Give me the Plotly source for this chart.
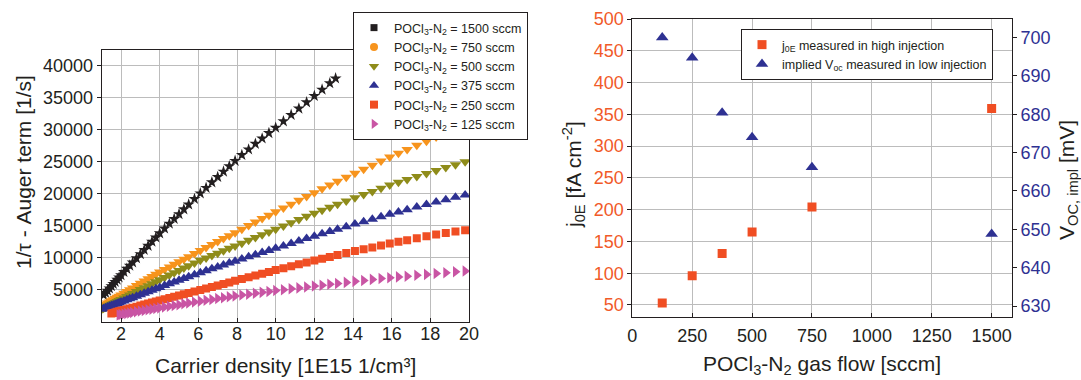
import plotly.graph_objects as go

# ---------------- Left panel data (Carrier density [1E15 1/cm3] vs 1/tau - Auger [1/s]) ----------------
x_1500 = [1.1, 1.2, 1.3, 1.4, 1.5, 1.6, 1.7, 1.8, 1.9, 2.0, 2.15, 2.3, 2.45, 2.6, 2.8, 3.0, 3.2, 3.4, 3.6, 3.8,
          4.0, 4.25, 4.5, 4.75, 5.0, 5.25, 5.5, 5.8, 6.1, 6.4, 6.7, 7.0, 7.3, 7.6, 7.9, 8.25, 8.6, 8.95, 9.3,
          9.65, 10.0, 10.4, 10.8, 11.2, 11.6, 12.0, 12.4, 12.8, 13.1]
y_1500 = [4100, 4450, 4800, 5150, 5500, 5850, 6150, 6500, 6850, 7200, 7700, 8200, 8700, 9200, 9850, 10500,
          11150, 11800, 12450, 13100, 13750, 14500, 15250, 16000, 16750, 17500, 18250, 19120, 19990, 20850,
          21720, 22550, 23390, 24230, 25070, 25980, 26850, 27730, 28570, 29410, 30250, 31250, 32250, 33240,
          34220, 35200, 36200, 37200, 37950]

x_750 = [1.0, 1.1, 1.2, 1.3, 1.4, 1.5, 1.6, 1.7, 1.8, 1.9, 2.0, 2.15, 2.3, 2.45, 2.6, 2.8, 3.0, 3.2, 3.4, 3.6,
         3.8, 4.0, 4.25, 4.5, 4.75, 5.0, 5.25, 5.5, 5.8, 6.1, 6.4, 6.7, 7.0, 7.3, 7.6, 7.9, 8.25, 8.6, 8.95,
         9.3, 9.65, 10.0, 10.4, 10.8, 11.2, 11.6, 12.0, 12.4, 12.8, 13.2, 13.65, 14.1, 14.55, 15.0, 15.45,
         15.9, 16.35, 16.8, 17.3, 17.8, 18.3, 18.8, 19.3, 19.8]
y_750 = [2300, 2480, 2660, 2840, 3020, 3200, 3380, 3560, 3740, 3920, 4100, 4380, 4650, 4930, 5210, 5580, 5950,
         6300, 6650, 7000, 7350, 7700, 8100, 8500, 8900, 9300, 9700, 10100, 10580, 11060, 11520, 11990, 12450,
         12920, 13380, 13850, 14400, 14960, 15520, 16050, 16580, 17100, 17700, 18300, 18900, 19500, 20100,
         20700, 21300, 21880, 22510, 23140, 23770, 24400, 25030, 25660, 26260, 26840, 27490, 28140, 28790,
         29440, 30090, 30740]

x_500 = list(x_750)
y_500 = [1900, 2050, 2200, 2350, 2500, 2650, 2800, 2950, 3100, 3250, 3400, 3630, 3870, 4100, 4330, 4640, 4950,
         5260, 5570, 5880, 6190, 6500, 6860, 7230, 7590, 7950, 8310, 8680, 9110, 9530, 9900, 10280, 10650,
         11030, 11400, 11780, 12210, 12650, 13090, 13530, 13960, 14400, 14900, 15400, 15900, 16400, 16900,
         17360, 17820, 18280, 18800, 19310, 19800, 20300, 20800, 21290, 21730, 22160, 22640, 23110, 23570,
         24020, 24470, 24920]

x_375 = list(x_750)
y_375 = [1900, 2010, 2120, 2230, 2340, 2450, 2560, 2670, 2780, 2890, 3000, 3170, 3350, 3520, 3690, 3920, 4150,
         4380, 4610, 4840, 5070, 5300, 5580, 5850, 6130, 6400, 6680, 6950, 7280, 7600, 7900, 8200, 8500, 8800,
         9100, 9400, 9740, 10070, 10400, 10740, 11070, 11400, 11780, 12160, 12540, 12920, 13300, 13660,
         14020, 14380, 14790, 15190, 15570, 15950, 16330, 16720, 17080, 17440, 17840, 18240, 18630, 19000,
         19380, 19750]

x_250 = [1.5, 1.6, 1.7, 1.8, 1.9, 2.0, 2.15, 2.3, 2.45, 2.6, 2.8, 3.0, 3.2, 3.4, 3.6, 3.8, 4.0, 4.25, 4.5,
         4.75, 5.0, 5.25, 5.5, 5.8, 6.1, 6.4, 6.7, 7.0, 7.3, 7.6, 7.9, 8.25, 8.6, 8.95, 9.3, 9.65, 10.0, 10.4,
         10.8, 11.2, 11.6, 12.0, 12.4, 12.8, 13.2, 13.65, 14.1, 14.55, 15.0, 15.45, 15.9, 16.35, 16.8, 17.3,
         17.8, 18.3, 18.8, 19.3, 19.8]
y_250 = [1220, 1300, 1390, 1480, 1560, 1650, 1770, 1890, 2010, 2130, 2290, 2450, 2610, 2770, 2930, 3090, 3250,
         3450, 3650, 3850, 4050, 4240, 4430, 4650, 4880, 5120, 5360, 5600, 5840, 6080, 6320, 6600, 6880, 7160,
         7440, 7720, 8000, 8300, 8600, 8900, 9200, 9500, 9780, 10060, 10340, 10660, 10970, 11260, 11550,
         11840, 12140, 12410, 12680, 12980, 13280, 13550, 13800, 14020, 14220]

x_125 = [1.9, 2.0, 2.15, 2.3, 2.45, 2.6, 2.8, 3.0, 3.2, 3.4, 3.6, 3.8, 4.0, 4.25, 4.5, 4.75, 5.0, 5.25, 5.5,
         5.8, 6.1, 6.4, 6.7, 7.0, 7.3, 7.6, 7.9, 8.25, 8.6, 8.95, 9.3, 9.65, 10.0, 10.4, 10.8, 11.2, 11.6,
         12.0, 12.4, 12.8, 13.2, 13.65, 14.1, 14.55, 15.0, 15.45, 15.9, 16.35, 16.8, 17.3, 17.8, 18.3, 18.8,
         19.3, 19.8]
y_125 = [1000, 1050, 1140, 1220, 1300, 1380, 1490, 1600, 1700, 1800, 1900, 2000, 2100, 2230, 2350, 2480, 2600,
         2730, 2850, 3000, 3150, 3280, 3420, 3550, 3690, 3820, 3960, 4100, 4240, 4380, 4520, 4660, 4800, 4940,
         5080, 5220, 5360, 5500, 5640, 5780, 5920, 6080, 6240, 6390, 6550, 6690, 6820, 6940, 7050, 7180, 7330,
         7470, 7600, 7730, 7850]

left_labels = ["1500", "750", "500", "375", "250", "125"]
left_x_ticks = [2, 4, 6, 8, 10, 12, 14, 16, 18, 20]
left_y_ticks = [5000, 10000, 15000, 20000, 25000, 30000, 35000, 40000]

# ---------------- Right panel data ----------------
gas_flow = [125, 250, 375, 500, 750, 1500]
j0e = [53, 96, 131, 165, 204, 359]
voc_impl = [700, 694.7, 680.4, 674, 666.2, 648.8]
right_x_ticks = [0, 250, 500, 750, 1000, 1250, 1500]
j0e_ticks = [50, 100, 150, 200, 250, 300, 350, 400, 450, 500]
voc_ticks = [630, 640, 650, 660, 670, 680, 690, 700]

# ---------------- styles ----------------
FONT = "Arial, Liberation Sans, Helvetica, sans-serif"
TXT = "#231f20"
GRID = "#bcbcbc"
C_BLACK = "#231f20"
C_ORANGE = "#f7941d"
C_OLIVE = "#8f8c1a"
C_BLUE = "#2e3192"
C_RED = "#f04e23"
C_MAG = "#c955a4"
C_RED_TXT = "#f15a29"

W, H = 1081, 380

def px(v):
    return v / W

def py(v):
    return 1 - v / H

fig = go.Figure()

series = [
    (x_1500, y_1500, C_BLACK, "star", 9, "square", 7),
    (x_750, y_750, C_ORANGE, "triangle-down", 10, "circle", 8),
    (x_500, y_500, C_OLIVE, "triangle-down", 10, "triangle-down", 9),
    (x_375, y_375, C_BLUE, "triangle-up", 10, "triangle-up", 9),
    (x_250, y_250, C_RED, "square", 8, "square", 8),
    (x_125, y_125, C_MAG, "triangle-right", 10, "triangle-right", 9),
]

for (xs, ys, col, sym, size, lsym, lsize), lab in zip(series, left_labels):
    fig.add_trace(go.Scatter(x=xs, y=ys, mode="markers", xaxis="x", yaxis="y",
                             marker=dict(symbol=sym, size=size, color=col, line=dict(width=0)),
                             showlegend=False, hoverinfo="skip"))

for (xs, ys, col, sym, size, lsym, lsize), lab in zip(series, left_labels):
    fig.add_trace(go.Scatter(x=[None], y=[None], mode="markers", xaxis="x", yaxis="y",
                             marker=dict(symbol=lsym, size=lsize, color=col, line=dict(width=0)),
                             name="POCl<sub>3</sub>-N<sub>2</sub> = " + lab + " sccm",
                             legend="legend", showlegend=True))

fig.add_trace(go.Scatter(x=gas_flow, y=j0e, mode="markers", xaxis="x2", yaxis="y2",
                         marker=dict(symbol="square", size=9, color=C_RED, line=dict(width=0)),
                         name="j<sub>0E</sub> measured in high injection", legend="legend2"))
fig.add_trace(go.Scatter(x=gas_flow, y=voc_impl, mode="markers", xaxis="x2", yaxis="y3",
                         marker=dict(symbol="triangle-up", size=11, color=C_BLUE, line=dict(width=0)),
                         name="implied V<sub>oc</sub> measured in low injection", legend="legend2"))

axis_common = dict(showline=True, linecolor="#231f20", linewidth=1, mirror=True,
                   ticks="outside", ticklen=4, tickcolor="#231f20", automargin=False,
                   showgrid=True, gridcolor=GRID, gridwidth=1, zeroline=False,
                   tickfont=dict(family=FONT, size=18, color=TXT))

fig.update_layout(
    width=W, height=H,
    margin=dict(l=0, r=0, t=0, b=0, pad=0, autoexpand=False),
    paper_bgcolor="white", plot_bgcolor="white",
    font=dict(family=FONT, color=TXT),
    xaxis=dict(axis_common, domain=[px(101.7), px(469)], range=[1, 20],
               tickvals=left_x_ticks, anchor="y", ticks="inside", ticklabelstandoff=-5),
    yaxis=dict(axis_common, domain=[py(322), py(50)], range=[-110, 42390],
               tickvals=left_y_ticks, tickformat="d", anchor="x"),
    xaxis2=dict(axis_common, domain=[px(632.3), px(1012)], range=[0, 1585],
                tickvals=right_x_ticks, anchor="y2", ticks="inside", ticklabelstandoff=2),
    yaxis2=dict(axis_common, domain=[py(317.3), py(19)], range=[30.6, 500],
                tickvals=j0e_ticks, anchor="x2",
                tickfont=dict(family=FONT, size=18, color=C_RED_TXT)),
    yaxis3=dict(showline=False, ticks="outside", ticklen=4, tickcolor="#231f20", automargin=False,
                showgrid=False, zeroline=False, overlaying="y2", side="right", anchor="x2",
                range=[627.1, 704.8], tickvals=voc_ticks,
                tickfont=dict(family=FONT, size=18, color=C_BLUE)),
    legend=dict(x=px(353), y=py(12), xanchor="left", yanchor="top",
                bgcolor="white", bordercolor="#231f20", borderwidth=1,
                font=dict(family=FONT, size=12.5, color=TXT), tracegroupgap=0),
    legend2=dict(x=px(741), y=py(29), xanchor="left", yanchor="top",
                 bgcolor="white", bordercolor="#231f20", borderwidth=1, tracegroupgap=0,
                 font=dict(family=FONT, size=12.5, color=TXT)),
    annotations=[
        dict(text="1/\u03c4 - Auger term [1/s]", x=px(23), y=py(172), xref="paper", yref="paper",
             textangle=-90, showarrow=False, xanchor="center", yanchor="middle",
             font=dict(family=FONT, size=21, color=TXT)),
        dict(text="Carrier density [1E15 1/cm\u00b3]", x=px(285), y=py(365), xref="paper", yref="paper",
             showarrow=False, xanchor="center", yanchor="middle",
             font=dict(family=FONT, size=21, color=TXT)),
        dict(text="POCl<sub>3</sub>-N<sub>2</sub> gas flow [sccm]", x=px(822), y=py(365), xref="paper",
             yref="paper", showarrow=False, xanchor="center", yanchor="middle",
             font=dict(family=FONT, size=21, color=TXT)),
        dict(text="j<sub>0E</sub> [fA cm<sup>-2</sup>]", x=px(573), y=py(175), xref="paper", yref="paper",
             textangle=-90, showarrow=False, xanchor="center", yanchor="middle",
             font=dict(family=FONT, size=21, color=TXT)),
        dict(text="V<sub>OC, impl</sub> [mV]", x=px(1068), y=py(180), xref="paper", yref="paper",
             textangle=-90, showarrow=False, xanchor="center", yanchor="middle",
             font=dict(family=FONT, size=21, color=TXT)),
    ],
)

fig.write_html("out.html")
